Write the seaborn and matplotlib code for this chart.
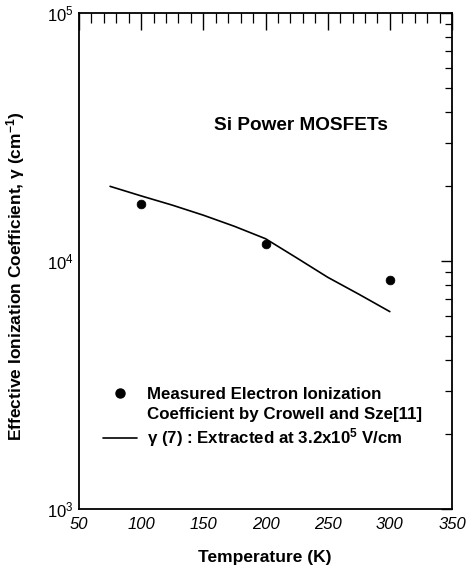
import numpy as np
import pandas as pd
import matplotlib
matplotlib.use("Agg")
import matplotlib.pyplot as plt
import matplotlib.ticker as mticker
from matplotlib.lines import Line2D
import seaborn as sns

# ---- data ----
meas_T = [100, 200, 300]
meas_gamma = [1.70e4, 1.17e4, 8.36e3]

fit_T = [75, 100, 125, 150, 175, 200, 225, 250, 275, 300]
fit_gamma = [2.00e4, 1.83e4, 1.68e4, 1.53e4, 1.38e4, 1.23e4, 1.03e4, 8.6e3, 7.35e3, 6.25e3]

x_ticks = [50, 100, 150, 200, 250, 300, 350]

sns.set_theme(style="white")
plt.rcParams['font.family'] = ['Liberation Sans', 'DejaVu Sans']
plt.rcParams['mathtext.fontset'] = 'custom'
plt.rcParams['mathtext.rm'] = 'Liberation Sans'
plt.rcParams['mathtext.bf'] = 'Liberation Sans:bold'
plt.rcParams['mathtext.it'] = 'Liberation Sans:italic'
plt.rcParams['text.color'] = 'black'
plt.rcParams['axes.labelcolor'] = 'black'
plt.rcParams['xtick.color'] = 'black'
plt.rcParams['ytick.color'] = 'black'

fig = plt.figure(figsize=(4.69, 5.70), dpi=100)
ax = fig.add_axes([79/469, 1-509/570, (452-79)/469, (509-13)/570])

meas_df = pd.DataFrame({"T": meas_T, "g": meas_gamma})
fit_df = pd.DataFrame({"T": fit_T, "g": fit_gamma})

sns.lineplot(data=fit_df, x="T", y="g", ax=ax, color="black", linewidth=1.2)
sns.scatterplot(data=meas_df, x="T", y="g", ax=ax, color="black", s=40,
                edgecolor="black", zorder=3)

ax.set_yscale("log")
ax.set_xlim(50, 350)
ax.set_ylim(1e3, 1e5)
ax.set_xticks(x_ticks)
ax.xaxis.set_minor_locator(mticker.MultipleLocator(10))
ax.yaxis.set_major_locator(mticker.LogLocator(base=10))
ax.yaxis.set_minor_locator(mticker.LogLocator(base=10, subs=np.arange(2, 10)))
ax.yaxis.set_minor_formatter(mticker.NullFormatter())

for sp in ax.spines.values():
    sp.set_visible(True)
    sp.set_color("black")
    sp.set_linewidth(1.3)

ax.tick_params(axis="both", which="both", direction="in", top=True, right=True,
               color="black")
ax.tick_params(axis="x", which="major", length=12, width=1.0, pad=6)
ax.tick_params(axis="x", which="minor", length=7, width=0.9)
ax.tick_params(axis="y", which="major", length=8, width=1.0, pad=4)
ax.tick_params(axis="y", which="minor", length=5, width=0.9)
ax.tick_params(axis="both", labelsize=12, labelcolor="black")
for lab in ax.get_xticklabels():
    lab.set_fontstyle("italic")

ax.set_xlabel("Temperature (K)", fontsize=12.5, fontweight="bold", color="black")
ax.xaxis.set_label_coords(0.499, -0.082)
ax.set_ylabel(r"Effective Ionization Coefficient, γ (cm$^{\mathbf{-1}}$)",
              fontsize=12.5, fontweight="bold", color="black")
ax.yaxis.set_label_coords(-0.14, 0.47)

ax.text(0.595, 0.774, "Si Power MOSFETs", transform=ax.transAxes,
        fontsize=13.7, fontweight="bold", ha="center", va="center", color="black")

handles = [
    Line2D([], [], marker="o", color="black", linestyle="none", markersize=6.5),
    Line2D([], [], linestyle="none"),
    Line2D([], [], color="black", linewidth=1.2),
]
labels = [
    "Measured Electron Ionization",
    "Coefficient by Crowell and Sze[11]",
    r"γ (7) : Extracted at 3.2x10$^{\mathbf{5}}$ V/cm",
]
leg = ax.legend(handles, labels, loc="upper left", bbox_to_anchor=(0.064, 0.246),
                frameon=False, borderpad=0, borderaxespad=0, handlelength=2.0,
                handletextpad=0.6, labelspacing=0.28,
                prop={"weight": "bold", "size": 12.2})
for t in leg.get_texts():
    t.set_color("black")

fig.savefig("out.png", dpi=100)
